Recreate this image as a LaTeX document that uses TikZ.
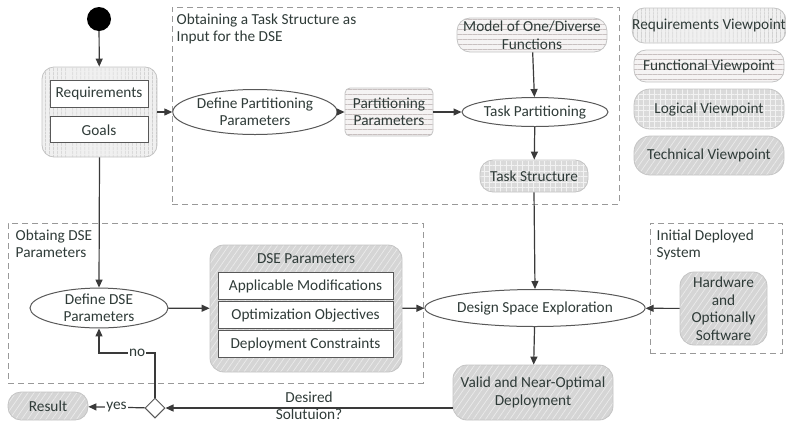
\documentclass[tikz,border=0pt]{standalone}
\usepackage{fontspec}
\setmainfont{Carlito}
\usepackage{xcolor}
\usepackage{tikz}
\usetikzlibrary{arrows.meta,positioning,shapes.geometric,patterns.meta}
\definecolor{ink}{HTML}{2F3B38}
\definecolor{wire}{HTML}{3A3A3A}
\definecolor{rim}{HTML}{C4C4C4}
\definecolor{reqfill}{HTML}{F0F0F0}
\definecolor{reqline}{HTML}{B8B8B8}
\definecolor{funfill}{HTML}{F5F3F3}
\definecolor{funline}{HTML}{C8C0C0}
\definecolor{logfill}{HTML}{DADADA}
\definecolor{logline}{HTML}{F2F2F2}
\definecolor{tecfill}{HTML}{D5D5D5}
\definecolor{tecline}{HTML}{EBEBEB}

\begin{document}
\begin{tikzpicture}[
  x=1pt,y=-1pt,
  every node/.style={font=\fontsize{15.3}{17.5}\selectfont,text=ink,align=center},
  view/.style={draw=rim,line width=0.8pt,rounded corners=12pt,inner sep=0pt},
  reqview/.style={view,preaction={fill=reqfill},
              pattern={Lines[angle=90,distance=4pt,line width=0.7pt]},pattern color=reqline},
  funview/.style={view,preaction={fill=funfill},
              pattern={Lines[angle=0,distance=5pt,line width=0.7pt]},pattern color=funline},
  logview/.style={view,preaction={fill=logfill},
              pattern={Hatch[angle=0,distance=5.5pt,line width=0.6pt]},pattern color=logline},
  tecview/.style={view,preaction={fill=tecfill},
              pattern={Lines[angle=55,distance=5pt,line width=0.7pt]},pattern color=tecline},
  inbox/.style={draw=wire!85,line width=0.9pt,fill=white,minimum width=98pt,minimum height=27pt,inner sep=0pt},
  activity/.style={ellipse,draw=wire!85,line width=1pt,fill=white,inner sep=0pt},
  frame/.style={draw=gray!80,line width=1pt,dash pattern=on 6pt off 4pt},
  framelabel/.style={anchor=north west,align=left,inner sep=0pt},
  arr/.style={-{Triangle[length=8pt,width=7pt]},line width=1.2pt,color=wire}
]
\useasboundingbox (0,0) rectangle (786,424);

% dashed groups
\node[frame,minimum width=447pt,minimum height=197pt] (taskframe) at (395.5,105.5) {};
\node[framelabel] (tasklabel) at ([xshift=5pt,yshift=-7pt]taskframe.north west) {Obtaining a Task Structure as\\Input for the DSE};
\node[frame,minimum width=415pt,minimum height=160pt] (dseframe) at (215.5,303) {};
\node[framelabel] (dselabel) at ([xshift=8pt,yshift=-7pt]dseframe.north west) {Obtaing DSE\\Parameters};
\node[frame,minimum width=132pt,minimum height=130pt] (initframe) at (716,288) {};
\node[framelabel] (initlabel) at ([xshift=7pt,yshift=-7pt]initframe.north west) {Initial Deployed\\System};

% legend
\node[reqview,minimum width=150pt,minimum height=35pt] (legreq) at (709,25.5) {Requirements Viewpoint};
\node[funview,minimum width=150pt,minimum height=32pt] (legfun) at (709,66) {Functional Viewpoint};
\node[logview,minimum width=150pt,minimum height=40pt,rounded corners=16pt] (leglog) at (709,109) {Logical Viewpoint};
\node[tecview,minimum width=150pt,minimum height=39pt,rounded corners=16pt] (legtec) at (709,155.5) {Technical Viewpoint};

% requirements and goals
\node[circle,fill=black,minimum size=24pt,inner sep=0pt] (start) at (99,19) {};
\node[reqview,minimum width=115pt,minimum height=90pt] (reqs) at (99.5,112) {};
\node[inbox] (req) at (99,93.5) {Requirements};
\node[inbox,below=9pt of req,minimum height=26pt] (goals) {Goals};

% task structure
\node[activity,minimum width=136pt,minimum height=45pt] (defpart) at (255,112) {Define Partitioning\\Parameters};
\node[funview,rounded corners=5pt,minimum width=88pt,minimum height=48pt] (partpar) at (389,112) {Partitioning\\Parameters};
\node[activity,minimum width=146pt,minimum height=29pt] (taskpart) at (535,112) {Task Partitioning};
\node[funview,rounded corners=13pt,minimum width=150pt,minimum height=34pt] (model) at (532,35) {Model of One/Diverse\\Functions};
\node[logview,rounded corners=13pt,minimum width=108pt,minimum height=32pt] (taskstruct) at (534,176) {Task Structure};

% DSE parameters
\node[activity,minimum width=138pt,minimum height=38pt] (defdse) at (99,308) {Define DSE\\Parameters};
\node[tecview,rounded corners=14pt,minimum width=192pt,minimum height=127pt] (dsepar) at (306,308.5) {};
\node (dsetitle) at (306,259) {DSE Parameters};
\node[inbox,minimum width=175pt] (modif) at (305.5,286) {Applicable Modifications};
\node[inbox,minimum width=175pt] (objs) at (305.5,315) {Optimization Objectives};
\node[inbox,minimum width=175pt] (constr) at (305.5,344) {Deployment Constraints};

% exploration
\node[activity,minimum width=174pt,minimum height=37pt] (dse) at (535,308) {Design Space Exploration};
\node[tecview,rounded corners=14pt,minimum width=87pt,minimum height=73pt] (hw) at (723.5,308.5) {Hardware\\and\\Optionally\\Software};
\node[tecview,rounded corners=14pt,minimum width=160pt,minimum height=55pt] (deploy) at (533,392.5) {Valid and Near-Optimal\\Deployment};
\node[diamond,draw=wire!85,line width=1pt,fill=white,minimum width=20pt,minimum height=20pt,inner sep=0pt] (choice) at (155,408) {};
\node[tecview,rounded corners=13pt,minimum width=80pt,minimum height=28pt] (result) at (48,406) {Result};
\coordinate (back) at (155,353);

\draw[arr] (start)--(reqs);
\draw[arr] (reqs)--(defpart);
\draw[arr] (defpart)--(partpar);
\draw[arr] (partpar)--(taskpart);
\draw[arr] (model)--(taskpart);
\draw[arr] (taskpart)--(taskstruct);
\draw[arr] (taskstruct.south)--(dse.north);
\draw[arr] (reqs.south)--(defdse.north);
\draw[arr] (defdse)--(dsepar);
\draw[arr] (dsepar)--(dse);
\draw[arr] (hw)--(dse);
\draw[arr] (dse)--(deploy);
\draw[arr] (deploy.west |- choice)--node[midway,yshift=2.5pt,inner sep=0pt] (ask) {Desired\\[0pt]Solutuion?} (choice);
\draw[arr] (choice)--node[midway,fill=white,inner sep=1pt] (yes) {yes} (result);
\draw[arr] (choice.north)--(back)-|node[pos=0.16,fill=white,inner sep=1pt] (no) {no} (defdse.south);
\end{tikzpicture}
\end{document}
